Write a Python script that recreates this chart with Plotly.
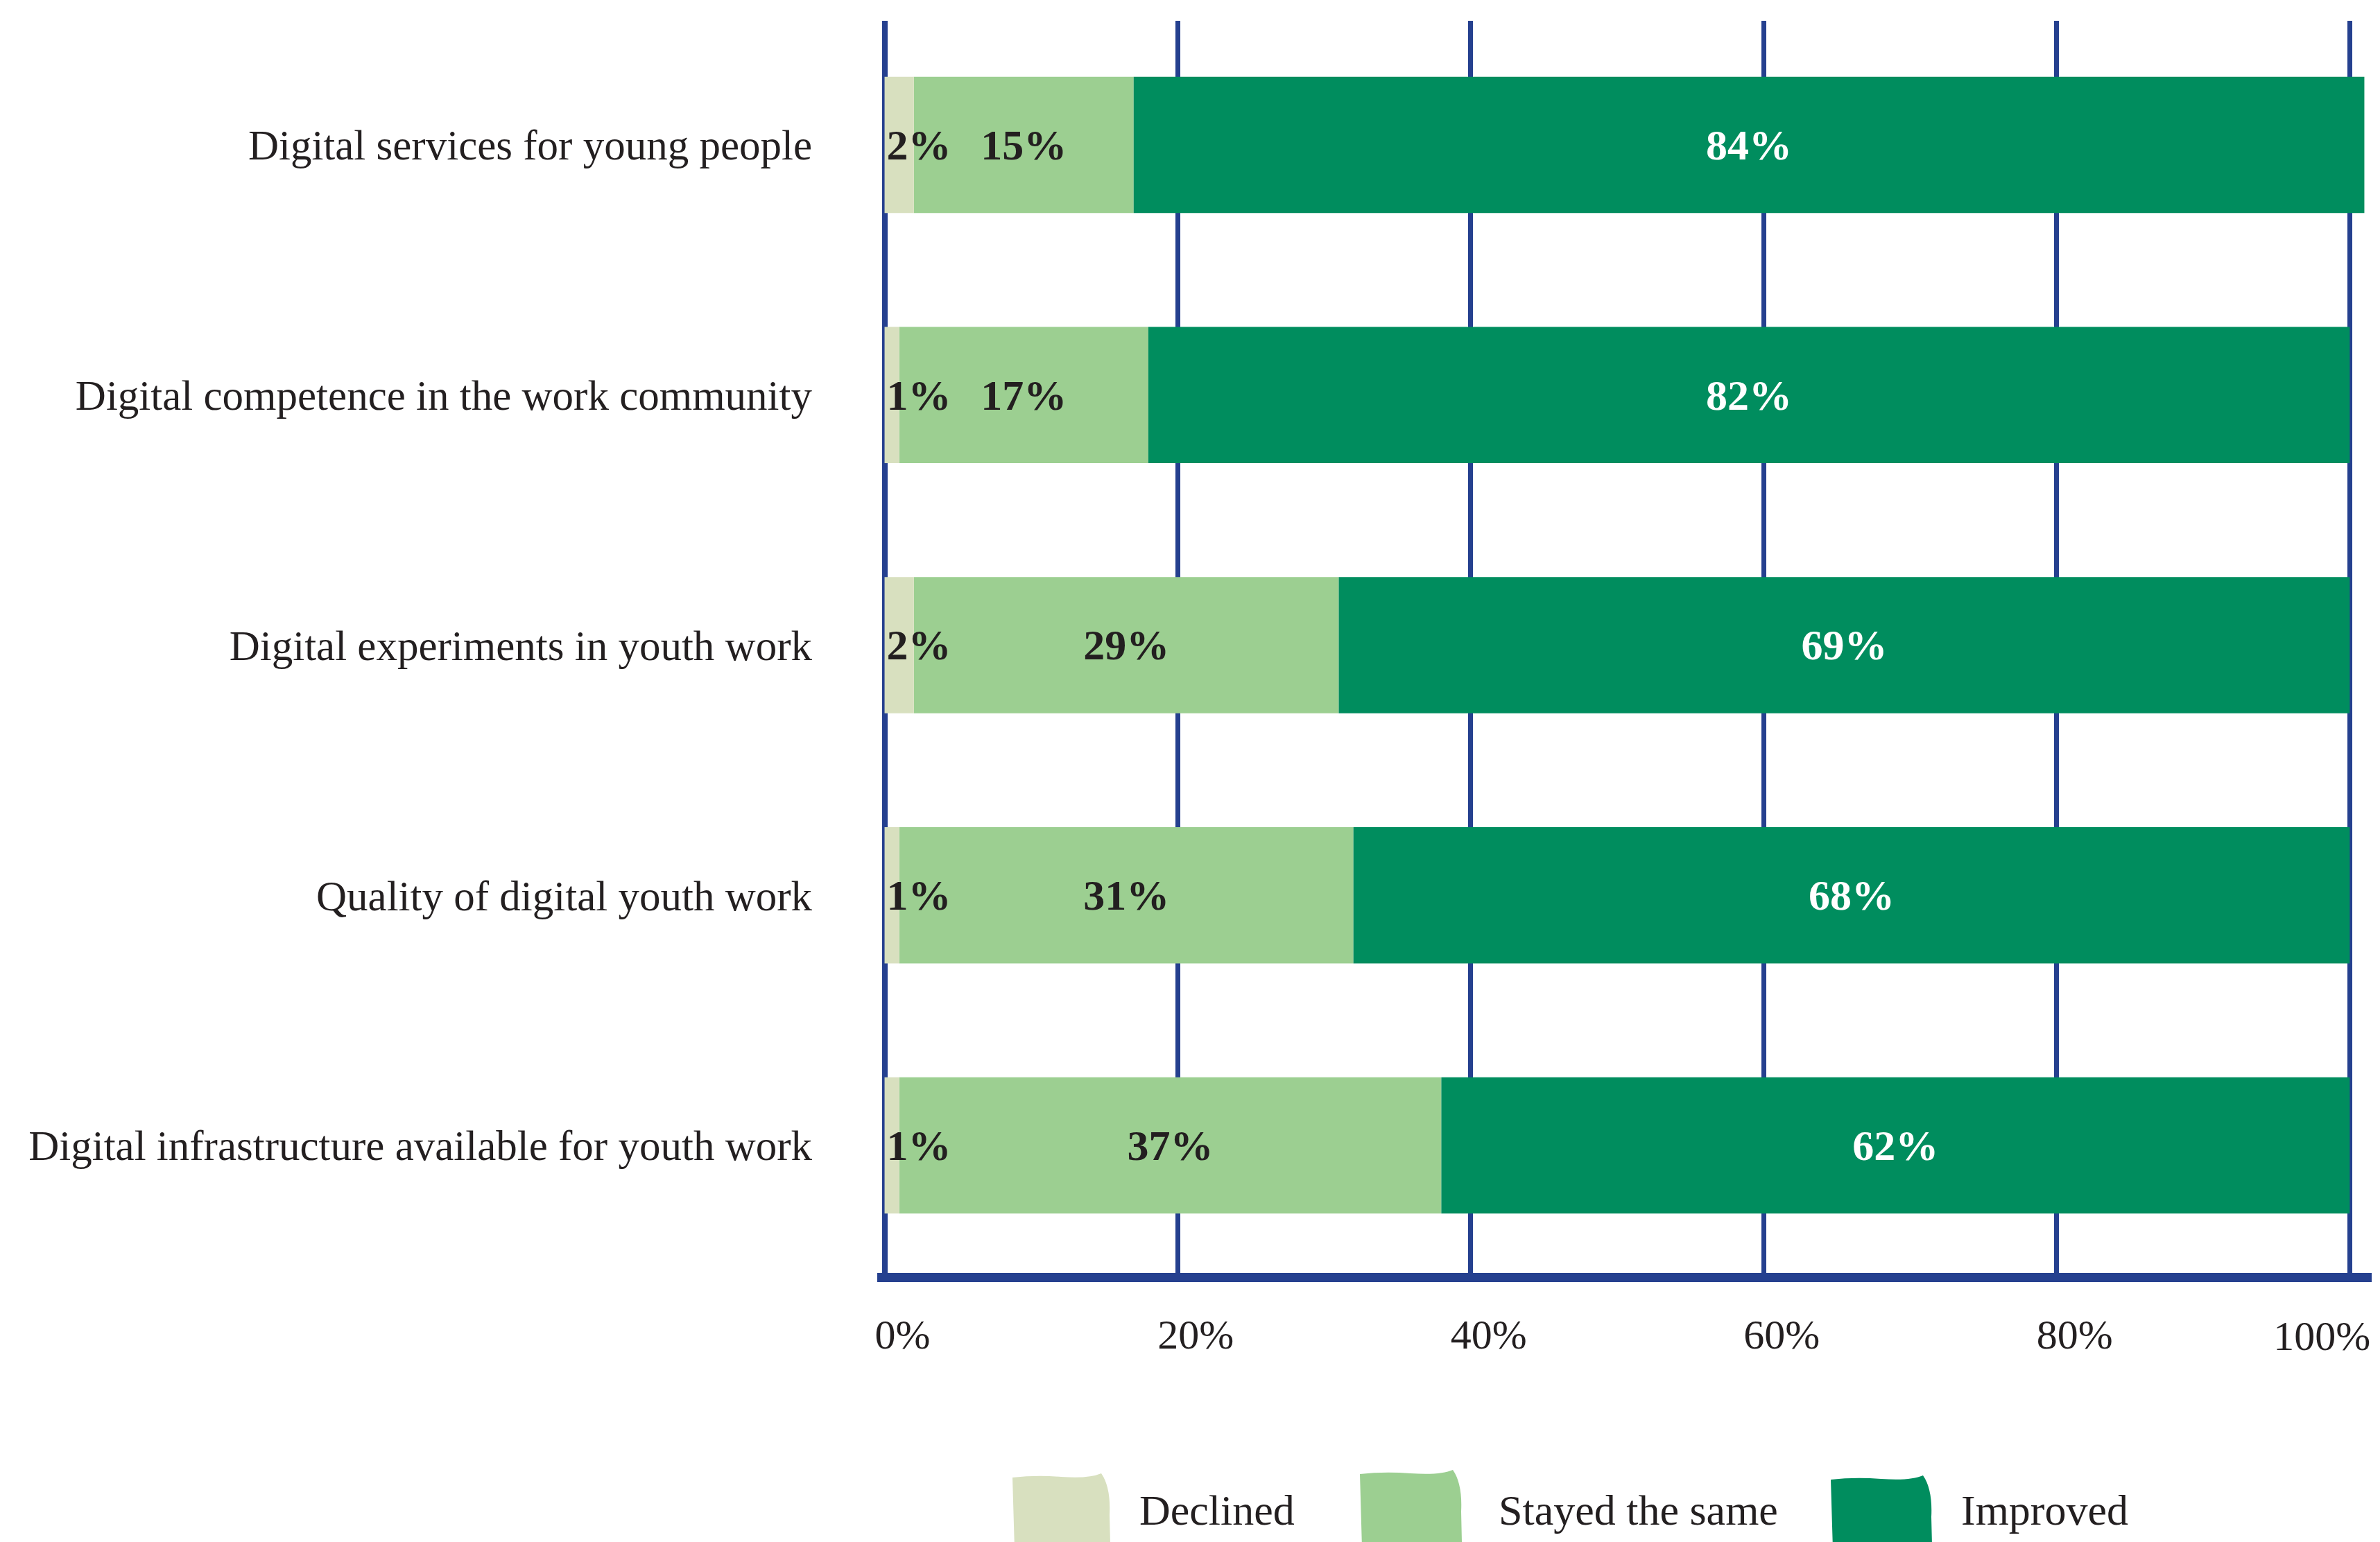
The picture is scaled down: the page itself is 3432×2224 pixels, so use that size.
import plotly.graph_objects as go

categories = [
    "Digital services for young people",
    "Digital competence in the work community",
    "Digital experiments in youth work",
    "Quality of digital youth work",
    "Digital infrastructure available for youth work",
]
declined = [2, 1, 2, 1, 1]
stayed = [15, 17, 29, 31, 37]
improved = [84, 82, 69, 68, 62]
series_names = ["Declined", "Stayed the same", "Improved"]
tick_values = [0, 20, 40, 60, 80, 100]
tick_labels = ["0%", "20%", "40%", "60%", "80%", "100%"]

C_DECL = "#D8E0BF"
C_STAY = "#9CCF91"
C_IMPR = "#008D5E"
C_LINE = "#25408F"
C_TEXT = "#231F20"
FONT = "Liberation Serif"

W, H = 3432, 2224
ML, MR, MT, MB = 1257, 20, 22, 396
PW, PH = W - ML - MR, H - MT - MB
X_RANGE = [-0.5, 101.5]


def px(x):
    return (x - ML) / PW


def py(y):
    return (H - MB - y) / PH


base_stayed = declined
base_improved = [d + s for d, s in zip(declined, stayed)]


def pct(vals):
    return [f"{v}%" for v in vals]


common = dict(orientation="h", width=0.545, textangle=0, constraintext="none",
              textposition="inside", cliponaxis=False, hoverinfo="skip", showlegend=False)

fig = go.Figure()
fig.add_trace(go.Bar(
    y=categories, x=stayed, base=base_stayed, name=series_names[1],
    marker=dict(color=C_STAY, line=dict(width=0)), text=pct(stayed),
    insidetextanchor="middle",
    insidetextfont=dict(family=FONT, size=62, color=C_TEXT, weight="bold"), **common))
fig.add_trace(go.Bar(
    y=categories, x=improved, base=base_improved, name=series_names[2],
    marker=dict(color=C_IMPR, line=dict(width=0)), text=pct(improved),
    insidetextanchor="middle",
    insidetextfont=dict(family=FONT, size=62, color="white", weight="bold"), **common))
fig.add_trace(go.Bar(
    y=categories, x=declined, base=[0] * len(declined), name=series_names[0],
    marker=dict(color=C_DECL, line=dict(width=0)), text=pct(declined),
    insidetextanchor="start",
    insidetextfont=dict(family=FONT, size=62, color=C_TEXT, weight="bold"), **common))
# empty helper trace so the companion axis (right-most tick label) is rendered
fig.add_trace(go.Scatter(x=[], y=[], xaxis="x2", yaxis="y", showlegend=False,
                         hoverinfo="skip", mode="markers"))

# hand-made legend (large painted swatches + labels)
legend_items = [
    (series_names[0], C_DECL, 1452, 1592, 2117, 1633),
    (series_names[1], C_STAY, 1953, 2099, 2112, 2151),
    (series_names[2], C_IMPR, 2632, 2777, 2120, 2818),
]
shapes = []
annotations = []
for name, col, x0, x1, ytop, xt in legend_items:
    xm = (x0 + x1) / 2
    bot = 2260
    path = (f"M{px(x0 + 4)},{py(bot)} L{px(x0)},{py(ytop + 6)} "
            f"Q{px(x0 + 35)},{py(ytop + 2)} {px(xm)},{py(ytop + 5)} "
            f"Q{px(x1 - 30)},{py(ytop + 8)} {px(x1 - 12)},{py(ytop)} "
            f"Q{px(x1 + 2)},{py(ytop + 20)} {px(x1)},{py(ytop + 60)} "
            f"L{px(x1 + 2)},{py(bot)} Z")
    shapes.append(dict(type="path", xref="paper", yref="paper", path=path,
                       fillcolor=col, line=dict(width=0), layer="above"))
    annotations.append(dict(text=name, xref="paper", yref="paper", x=px(xt), y=py(2170),
                            xanchor="left", yanchor="middle", showarrow=False,
                            font=dict(family=FONT, size=62, color=C_TEXT)))

tickfont = dict(family=FONT, size=60, color=C_TEXT)

fig.update_layout(
    width=W, height=H, autosize=False,
    margin=dict(l=ML, r=MR, t=MT, b=MB, pad=0, autoexpand=False),
    barmode="overlay",
    plot_bgcolor="white", paper_bgcolor="white",
    font=dict(family=FONT, size=60, color=C_TEXT),
    showlegend=False,
    shapes=shapes,
    annotations=annotations,
    xaxis=dict(range=X_RANGE, tickvals=tick_values,
               ticktext=tick_labels[:-1] + [""],
               showgrid=True, gridcolor=C_LINE, gridwidth=7,
               zeroline=True, zerolinecolor=C_LINE, zerolinewidth=8,
               showline=True, linecolor=C_LINE, linewidth=13,
               ticks="", ticklabelstandoff=24, ticklabelshift=26,
               automargin=False, tickfont=tickfont, fixedrange=True),
    # companion axis carrying only the right-most label, right-aligned to its line
    xaxis2=dict(range=X_RANGE, overlaying="x", anchor="y", side="bottom",
                tickvals=tick_values[-1:], ticktext=tick_labels[-1:],
                ticklabelposition="outside left", ticklabelshift=30,
                ticklabeloverflow="allow",
                showgrid=False, zeroline=False, showline=False,
                ticks="", ticklabelstandoff=50,
                automargin=False, tickfont=tickfont, fixedrange=True),
    yaxis=dict(range=[4.51, -0.496], showgrid=False, zeroline=False, showline=False,
               ticks="", ticklabelstandoff=93, automargin=False,
               tickfont=dict(family=FONT, size=61, color=C_TEXT), fixedrange=True),
)

fig.write_html("out.html")
